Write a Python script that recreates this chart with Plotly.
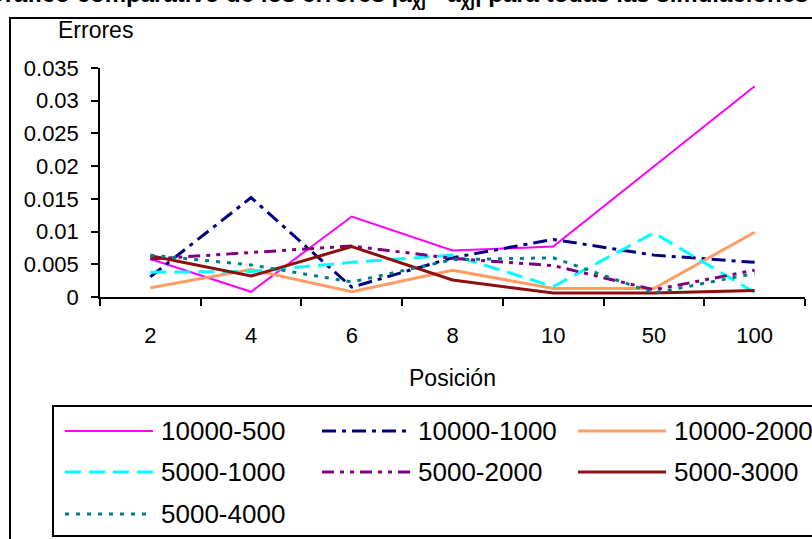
import plotly.graph_objects as go

positions = ["2", "4", "6", "8", "10", "50", "100"]
series_names = ["10000-500", "10000-1000", "10000-2000",
                "5000-1000", "5000-2000", "5000-3000", "5000-4000"]
s_10000_500 = [0.0058, 0.0008, 0.0123, 0.0071, 0.0077, 0.0199, 0.0322]
s_10000_1000 = [0.0031, 0.0152, 0.0015, 0.0060, 0.0088, 0.0064, 0.0053]
s_10000_2000 = [0.0014, 0.0042, 0.0008, 0.0041, 0.0013, 0.0013, 0.0099]
s_5000_1000 = [0.0038, 0.0039, 0.0053, 0.0064, 0.0016, 0.0098, 0.0007]
s_5000_2000 = [0.0058, 0.0068, 0.0078, 0.0059, 0.0048, 0.0011, 0.0041]
s_5000_3000 = [0.0063, 0.0032, 0.0077, 0.0026, 0.0006, 0.0006, 0.0010]
s_5000_4000 = [0.0064, 0.0049, 0.0023, 0.0057, 0.0060, 0.0006, 0.0036]
y_tickvals = [0, 0.005, 0.01, 0.015, 0.02, 0.025, 0.03, 0.035]
y_ticktext = ["0", "0.005", "0.01", "0.015", "0.02", "0.025", "0.03", "0.035"]

values = [s_10000_500, s_10000_1000, s_10000_2000, s_5000_1000,
          s_5000_2000, s_5000_3000, s_5000_4000]
styles = [
    dict(color="#FF00FF", width=2, dash="solid"),
    dict(color="#000080", width=3, dash="14px,6px,4px,6px"),
    dict(color="#FF9C66", width=3, dash="solid"),
    dict(color="#00FFFF", width=3, dash="16px,8px"),
    dict(color="#800080", width=3, dash="12px,6px,4px,6px,4px,6px"),
    dict(color="#8B1010", width=3, dash="solid"),
    dict(color="#008080", width=3, dash="4px,7px"),
]

FONT = "Liberation Sans, Arial, sans-serif"
W, H = 812, 539
L, R, T, B = 100, 805, 68, 297


def px(x):
    return (x - L) / (R - L)


def py(y):
    return (B - y) / (B - T)


fig = go.Figure()
for name, vals, st in zip(series_names, values, styles):
    fig.add_trace(go.Scatter(x=positions, y=vals, mode="lines", name=name,
                             line=st, showlegend=False))

shapes = [
    dict(type="rect", xref="paper", yref="paper", x0=px(10), x1=px(830),
         y0=py(18), y1=py(560), line=dict(color="black", width=2)),
    dict(type="rect", xref="paper", yref="paper", x0=px(53), x1=px(830),
         y0=py(406), y1=py(536), line=dict(color="black", width=2)),
]
annotations = [
    dict(text="<b>Gráfico comparativo de los errores |a<sub>χj</sub> - a<sub>χj</sub>| para todas las simulaciones</b>",
         xref="paper", yref="paper", x=px(-16), y=py(-4), xanchor="left", yanchor="middle",
         showarrow=False, font=dict(family=FONT, size=24, color="black")),
    dict(text="Errores", xref="paper", yref="paper", x=px(56), y=py(30),
         xanchor="left", yanchor="middle", showarrow=False,
         font=dict(family=FONT, size=23, color="black")),
    dict(text="Posición", xref="paper", yref="paper", x=px(452), y=py(378),
         xanchor="center", yanchor="middle", showarrow=False,
         font=dict(family=FONT, size=23, color="black")),
]
col_x = [65, 322, 578]
row_y = [431, 472, 514]
for i, (name, st) in enumerate(zip(series_names, styles)):
    r, c = divmod(i, 3)
    x0 = col_x[c]
    yy = row_y[r]
    shapes.append(dict(type="line", xref="paper", yref="paper",
                       x0=px(x0), x1=px(x0 + 88), y0=py(yy), y1=py(yy),
                       line=st))
    annotations.append(dict(text=name, xref="paper", yref="paper",
                            x=px(x0 + 94), y=py(yy), xanchor="left", yanchor="middle",
                            showarrow=False,
                            font=dict(family=FONT, size=26, color="black")))

fig.update_layout(
    width=W, height=H,
    margin=dict(l=L, r=W - R, t=T, b=H - B, pad=0),
    paper_bgcolor="white", plot_bgcolor="white",
    shapes=shapes, annotations=annotations,
    showlegend=False,
)
fig.update_xaxes(type="category", range=[-0.5, 6.5], tickson="boundaries",
                 ticks="outside", ticklen=7, tickcolor="black", tickwidth=1.5,
                 showline=True, linecolor="black", linewidth=1.5, showgrid=False,
                 zeroline=False, ticklabelstandoff=18,
                 tickfont=dict(family=FONT, size=22, color="black"))
fig.update_yaxes(range=[0, 0.035], tickvals=y_tickvals, ticktext=y_ticktext,
                 ticks="outside", ticklen=7, tickcolor="black", tickwidth=1.5,
                 showline=True, linecolor="black", linewidth=1.5, showgrid=False,
                 zeroline=False, ticklabelstandoff=8,
                 tickfont=dict(family=FONT, size=22, color="black"))

fig.write_html("out.html", config={"displayModeBar": False},
               post_script="document.body.style.margin='0';document.body.style.overflow='hidden';")
